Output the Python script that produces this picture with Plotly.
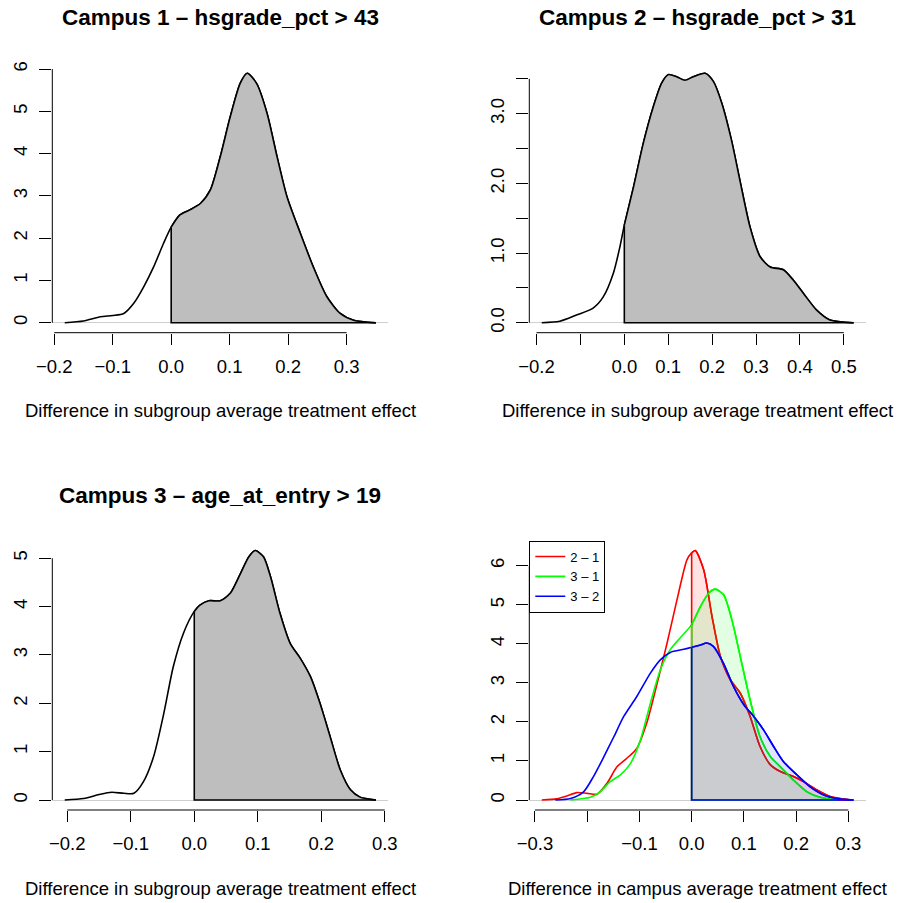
import plotly.graph_objects as go

# ---------------- data ----------------
c1_x = [-0.182, -0.150, -0.121, -0.100, -0.081, -0.064, -0.047, -0.030, -0.013, 0.0, 0.015, 0.032, 0.050,
        0.067, 0.084, 0.101, 0.118, 0.130, 0.146, 0.164, 0.181, 0.198, 0.221, 0.243, 0.266, 0.289, 0.312, 0.350]
c1_y = [0.0, 0.04, 0.14, 0.17, 0.22, 0.46, 0.85, 1.32, 1.88, 2.26, 2.55, 2.67, 2.82,
        3.14, 3.93, 4.87, 5.66, 5.90, 5.66, 4.95, 3.93, 2.98, 2.11, 1.32, 0.62, 0.22, 0.06, 0.0]

c2_x = [-0.188, -0.147, -0.109, -0.071, -0.048, -0.025, -0.010, 0.0, 0.021, 0.043, 0.066, 0.085, 0.100, 0.119,
        0.138, 0.157, 0.184, 0.203, 0.222, 0.244, 0.263, 0.286, 0.309, 0.332, 0.362, 0.385, 0.408, 0.438, 0.468, 0.522]
c2_y = [0.0, 0.02, 0.11, 0.21, 0.37, 0.71, 1.09, 1.40, 1.95, 2.57, 3.10, 3.44, 3.56, 3.53,
        3.48, 3.53, 3.58, 3.46, 3.15, 2.62, 2.05, 1.38, 0.95, 0.80, 0.76, 0.61, 0.42, 0.18, 0.04, 0.0]

c3_x = [-0.204, -0.174, -0.148, -0.130, -0.111, -0.095, -0.080, -0.064, -0.048, -0.033, -0.017, 0.0, 0.009, 0.023,
        0.041, 0.057, 0.072, 0.086, 0.096, 0.109, 0.120, 0.135, 0.151, 0.167, 0.183, 0.198, 0.214, 0.230, 0.246, 0.261, 0.286]
c3_y = [0.0, 0.03, 0.12, 0.16, 0.14, 0.14, 0.38, 0.90, 1.79, 2.76, 3.45, 3.90, 4.03, 4.12,
        4.12, 4.28, 4.66, 5.03, 5.16, 5.03, 4.62, 3.86, 3.24, 2.93, 2.55, 2.00, 1.31, 0.62, 0.21, 0.06, 0.0]

d21_x = [-0.287, -0.258, -0.239, -0.220, -0.200, -0.181, -0.162, -0.143, -0.124, -0.105, -0.086, -0.066, -0.047,
         -0.028, -0.009, 0.0, 0.007, 0.023, 0.039, 0.055, 0.074, 0.093, 0.112, 0.131, 0.151, 0.170, 0.195, 0.214,
         0.240, 0.265, 0.304]
d21_y = [0.0, 0.03, 0.10, 0.19, 0.17, 0.15, 0.43, 0.85, 1.07, 1.32, 1.97, 2.99, 4.02,
         5.13, 6.15, 6.33, 6.39, 5.90, 4.70, 3.68, 3.08, 2.74, 2.14, 1.37, 0.90, 0.73, 0.60, 0.47,
         0.26, 0.09, 0.0]

d31_x = [-0.232, -0.194, -0.175, -0.156, -0.137, -0.117, -0.098, -0.079, -0.060, -0.041, -0.022, 0.0, 0.017,
         0.033, 0.045, 0.061, 0.077, 0.093, 0.112, 0.131, 0.151, 0.170, 0.195, 0.221, 0.246, 0.278]
d31_y = [0.0, 0.07, 0.21, 0.47, 0.64, 0.94, 1.54, 2.48, 3.33, 3.85, 4.15, 4.49, 4.96,
         5.30, 5.40, 5.26, 4.62, 3.68, 2.56, 1.62, 1.11, 0.85, 0.51, 0.21, 0.07, 0.0]

d32_x = [-0.261, -0.232, -0.207, -0.188, -0.168, -0.149, -0.130, -0.105, -0.079, -0.060, -0.041, -0.015, 0.0,
         0.017, 0.029, 0.042, 0.061, 0.080, 0.100, 0.119, 0.138, 0.157, 0.176, 0.202, 0.227, 0.253, 0.278, 0.310]
d32_y = [0.0, 0.04, 0.21, 0.60, 1.11, 1.62, 2.14, 2.65, 3.25, 3.59, 3.78, 3.86, 3.91,
         3.97, 4.02, 3.93, 3.50, 2.91, 2.44, 2.14, 1.79, 1.37, 0.98, 0.64, 0.34, 0.13, 0.04, 0.0]

titles = ["Campus 1 – hsgrade_pct > 43", "Campus 2 – hsgrade_pct > 31", "Campus 3 – age_at_entry > 19", ""]
xlabels = ["Difference in subgroup average treatment effect", "Difference in subgroup average treatment effect",
           "Difference in subgroup average treatment effect", "Difference in campus average treatment effect"]
legend_names = ["2 – 1", "3 – 1", "3 – 2"]

p1_xticks = [-0.2, -0.1, 0.0, 0.1, 0.2, 0.3]
p1_xlabels = ["−0.2", "−0.1", "0.0", "0.1", "0.2", "0.3"]
p1_yticks = [0, 1, 2, 3, 4, 5, 6]
p1_ylabels = ["0", "1", "2", "3", "4", "5", "6"]

p2_xticks = [-0.2, -0.1, 0.0, 0.1, 0.2, 0.3, 0.4, 0.5]
p2_xlabels = ["−0.2", "", "0.0", "0.1", "0.2", "0.3", "0.4", "0.5"]
p2_yticks = [0.0, 0.5, 1.0, 1.5, 2.0, 2.5, 3.0, 3.5]
p2_ylabels = ["0.0", "", "1.0", "", "2.0", "", "3.0", ""]

p3_xticks = [-0.2, -0.1, 0.0, 0.1, 0.2, 0.3]
p3_xlabels = ["−0.2", "−0.1", "0.0", "0.1", "0.2", "0.3"]
p3_yticks = [0, 1, 2, 3, 4, 5]
p3_ylabels = ["0", "1", "2", "3", "4", "5"]

p4_xticks = [-0.3, -0.2, -0.1, 0.0, 0.1, 0.2, 0.3]
p4_xlabels = ["−0.3", "", "−0.1", "0.0", "0.1", "0.2", "0.3"]
p4_yticks = [0, 1, 2, 3, 4, 5, 6]
p4_ylabels = ["0", "1", "2", "3", "4", "5", "6"]

# ---------------- layout constants ----------------
W, H = 901, 903
FONT = "Liberation Sans, Arial, Helvetica, sans-serif"
AX_FONT = 18.5
TITLE_FONT = 22.5
X_DOMS = [[52.3 / W, 388.3 / W], [529.3 / W, 866.0 / W]]
Y_DOMS = [[1 - 332.7 / H, 1 - 63.3 / H], [1 - 810.0 / H, 1 - 540.5 / H]]
SMOOTH = 0.7

fig = go.Figure()
shapes = []
annotations = []


def rng(vals_list):
    lo = min(min(v) for v in vals_list)
    hi = max(max(v) for v in vals_list)
    ext = 0.04 * (hi - lo)
    return [lo - ext, hi + ext]


def frac(v, r):
    return (v - r[0]) / (r[1] - r[0])


def positive_part(xs, ys):
    px = [x for x in xs if x >= 0]
    py = [y for x, y in zip(xs, ys) if x >= 0]
    return px, py


panels = [
    dict(curves=[(c1_x, c1_y, "black", "#bebebe", None)], xt=p1_xticks, xl=p1_xlabels, yt=p1_yticks, yl=p1_ylabels),
    dict(curves=[(c2_x, c2_y, "black", "#bebebe", None)], xt=p2_xticks, xl=p2_xlabels, yt=p2_yticks, yl=p2_ylabels),
    dict(curves=[(c3_x, c3_y, "black", "#bebebe", None)], xt=p3_xticks, xl=p3_xlabels, yt=p3_yticks, yl=p3_ylabels),
    dict(curves=[(d21_x, d21_y, "#ff0000", "rgba(255,0,0,0.11)", legend_names[0]),
                 (d31_x, d31_y, "#00ff00", "rgba(0,255,0,0.11)", legend_names[1]),
                 (d32_x, d32_y, "#0000ff", "rgba(0,0,255,0.11)", legend_names[2])],
         xt=p4_xticks, xl=p4_xlabels, yt=p4_yticks, yl=p4_ylabels),
]

LW = 1.6
for i, p in enumerate(panels):
    n = i + 1
    xa = "x" if n == 1 else f"x{n}"
    ya = "y" if n == 1 else f"y{n}"
    xdom = X_DOMS[i % 2]
    ydom = Y_DOMS[i // 2]
    xr = rng([c[0] for c in p["curves"]])
    yr = rng([c[1] for c in p["curves"]])

    # full density curves
    for cx, cy, col, fcol, name in p["curves"]:
        fig.add_trace(go.Scatter(x=cx, y=cy, mode="lines", xaxis=xa, yaxis=ya,
                                 line=dict(color=col, width=LW, shape="spline", smoothing=SMOOTH),
                                 name=name if name else "", showlegend=bool(name), hoverinfo="skip"))
    # shaded positive part with border
    for cx, cy, col, fcol, name in p["curves"]:
        px_, py_ = positive_part(cx, cy)
        fig.add_trace(go.Scatter(x=px_, y=py_, mode="lines", xaxis=xa, yaxis=ya, fill="tozeroy",
                                 fillcolor=fcol,
                                 line=dict(color=col, width=LW, shape="spline", smoothing=SMOOTH),
                                 showlegend=False, hoverinfo="skip"))
        fig.add_trace(go.Scatter(x=[px_[0], px_[0], px_[-1]], y=[py_[0], 0, 0], mode="lines",
                                 xaxis=xa, yaxis=ya, line=dict(color=col, width=LW),
                                 showlegend=False, hoverinfo="skip"))

    key = "" if n == 1 else str(n)
    fig.update_layout(**{
        f"xaxis{key}": dict(domain=xdom, range=xr, anchor=ya, tickmode="array", tickvals=p["xt"],
                            ticktext=p["xl"], ticks="outside", ticklen=11, tickwidth=1, tickcolor="black",
                            showline=False, showgrid=False, zeroline=False, ticklabelstandoff=6,
                            automargin=False,
                            tickfont=dict(family=FONT, size=AX_FONT, color="black")),
        f"yaxis{key}": dict(domain=ydom, range=yr, anchor=xa, tickmode="array", tickvals=p["yt"],
                            ticktext=p["yl"], ticks="outside", ticklen=12, tickwidth=1, tickcolor="black",
                            tickangle=-90, showline=False, showgrid=False, zeroline=True,
                            zerolinecolor="#cfcfcf", zerolinewidth=1, ticklabelstandoff=5,
                            automargin=False,
                            tickfont=dict(family=FONT, size=AX_FONT, color="black")),
    })
    # R-style axis lines spanning first..last tick
    shapes.append(dict(type="line", xref=f"{xa} domain", yref=f"{ya} domain",
                       x0=frac(p["xt"][0], xr), x1=frac(p["xt"][-1], xr), y0=0, y1=0,
                       line=dict(color="black", width=1)))
    shapes.append(dict(type="line", xref=f"{xa} domain", yref=f"{ya} domain",
                       x0=0, x1=0, y0=frac(p["yt"][0], yr), y1=frac(p["yt"][-1], yr),
                       line=dict(color="black", width=1)))

    xc = (xdom[0] + xdom[1]) / 2
    top_px = (1 - ydom[1]) * H
    bot_px = (1 - ydom[0]) * H
    if titles[i]:
        annotations.append(dict(text=titles[i], xref="paper", yref="paper", x=xc, y=1 - (top_px - 45.5) / H,
                                showarrow=False, xanchor="center", yanchor="middle",
                                font=dict(family=FONT, size=TITLE_FONT, color="black", weight="bold")))
    annotations.append(dict(text=xlabels[i], xref="paper", yref="paper", x=xc, y=1 - (bot_px + 78) / H,
                            showarrow=False, xanchor="center", yanchor="middle",
                            font=dict(family=FONT, size=AX_FONT, color="black")))

fig.update_layout(
    template="none",
    width=W, height=H, margin=dict(l=0, r=0, t=0, b=0, autoexpand=False),
    paper_bgcolor="white", plot_bgcolor="white",
    font=dict(family=FONT, color="black"),
    shapes=shapes, annotations=annotations,
    legend=dict(x=X_DOMS[1][0], y=Y_DOMS[1][1], xanchor="left", yanchor="top",
                bgcolor="white", bordercolor="black", borderwidth=1,
                font=dict(family=FONT, size=13, color="black"), tracegroupgap=0),
)

fig.write_html("out.html", config={"displayModeBar": False},
               post_script="document.body.style.margin='0';")
